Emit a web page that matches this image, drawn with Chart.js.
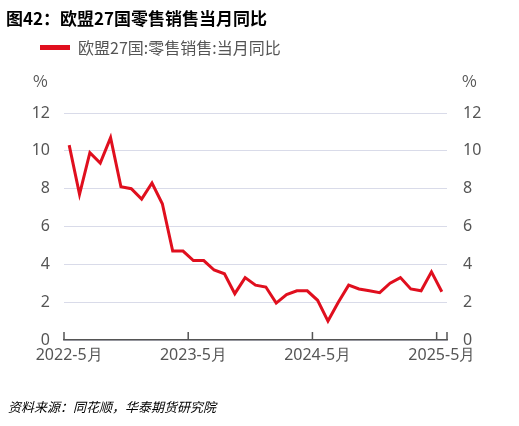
<!DOCTYPE html>
<html><head><meta charset="utf-8">
<script src="https://cdn.jsdelivr.net/npm/chart.js@4"></script>
<style>
body{margin:0;width:519px;height:426px;position:relative;background:#fff;font-family:"Noto Sans CJK SC","Noto Sans",sans-serif;overflow:hidden}
.t{position:absolute;white-space:nowrap}
#c{position:absolute;left:0;top:0}
</style></head><body>
<canvas id="c" width="519" height="426"></canvas>
<div class="t" style="left:6px;top:5px;font-size:17px;font-weight:bold;color:#000">图42：欧盟27国零售销售当月同比</div>
<div class="t" style="left:40px;top:45px;width:30px;height:5px;background:#e00f1e"></div>
<div class="t" style="left:78px;top:35px;font-size:16px;color:#555">欧盟27国:零售销售:当月同比</div>
<div class="t" style="left:33px;top:68px;font-size:16px;color:#555">%</div>
<div class="t" style="left:462px;top:68px;font-size:16px;color:#555">%</div>
<div class="t" style="left:8px;top:397px;font-size:13px;font-style:italic;color:#000">资料来源：同花顺，华泰期货研究院</div>
<script>
// monthly data, 2022-05 .. 2025-05
const months = [];
for (let y = 2022, m = 5; months.length < 37; m++) {
    if (m > 12) { m = 1; y++; }
    months.push(y + '-' + m + '月');
}
const retailYoY = [10.3, 7.7, 9.9, 9.35, 10.7, 8.1, 8.0, 7.45, 8.3, 7.2,
    4.7, 4.7, 4.2, 4.2, 3.7, 3.5, 2.45, 3.3, 2.9, 2.8,
    1.95, 2.4, 2.6, 2.6, 2.1, 1.0, 2.0, 2.9, 2.7, 2.6,
    2.5, 3.0, 3.3, 2.7, 2.6, 3.6, 2.55];
const yTicks = [0, 2, 4, 6, 8, 10, 12];

const tickFont = { family: 'Noto Sans', size: 16 };
const yAxis = (pos, w) => ({
    position: pos, min: 0, max: 12,
    afterBuildTicks: a => { a.ticks = yTicks.map(v => ({ value: v })); },
    afterFit: a => { a.width = w; },
    border: { display: false },
    grid: { display: pos === 'left', color: '#d9dbe9', drawTicks: false },
    ticks: { color: '#555', font: tickFont, padding: pos === 'left' ? 14 : 16 }
});

// short upward tick marks at year boundaries and at the axis end
const xTickMarks = {
    id: 'xTickMarks',
    afterDraw(chart) {
        const x = chart.scales.x, ctx = chart.ctx, bottom = chart.chartArea.bottom;
        const half = (x.getPixelForValue(1) - x.getPixelForValue(0)) / 2;
        const xs = [0, 12, 24, 36].map(i => x.getPixelForValue(i) - half);
        xs.push(chart.chartArea.right);
        ctx.save();
        ctx.strokeStyle = '#555';
        ctx.lineWidth = 1.5;
        ctx.beginPath();
        xs.forEach(p => { ctx.moveTo(p, bottom); ctx.lineTo(p, bottom - 8); });
        ctx.stroke();
        ctx.restore();
    }
};

new Chart(document.getElementById('c'), {
    type: 'line',
    data: {
        labels: months,
        datasets: [{ data: retailYoY, yAxisID: 'y', borderColor: '#e00f1e', borderWidth: 3, pointRadius: 0, tension: 0 }]
    },
    options: {
        responsive: false, animation: false,
        layout: { padding: { top: 113, bottom: 56 } },
        plugins: { legend: { display: false }, tooltip: { enabled: false } },
        scales: {
            x: {
                offset: true,
                afterFit: a => { a.height = 30; },
                border: { color: '#555', width: 1.5 },
                grid: { drawOnChartArea: false, drawTicks: false },
                ticks: {
                    autoSkip: false, maxRotation: 0, color: '#555', font: tickFont, padding: 6,
                    callback: (v, i) => i % 12 === 0 ? months[i] : ''
                }
            },
            y: yAxis('left', 64),
            y2: yAxis('right', 72)
        }
    },
    plugins: [xTickMarks]
});
</script>
</body></html>
